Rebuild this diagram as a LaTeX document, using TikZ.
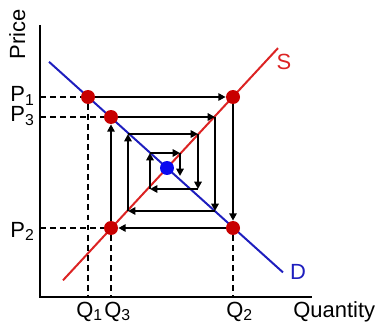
\documentclass[tikz,border=0pt]{standalone}
\usepackage{fontspec}
\setmainfont{Liberation Sans}
\usetikzlibrary{arrows.meta}
\definecolor{supred}{RGB}{220,35,35}
\definecolor{dotred}{RGB}{200,0,0}
\definecolor{demblue}{RGB}{30,30,190}
\definecolor{eqblue}{RGB}{10,10,240}
\newcommand{\lowidx}[1]{\raisebox{-0.3ex}{\fontsize{9}{10}\selectfont #1}}
\tikzset{
	dot/.style={circle,inner sep=0pt,minimum size=0.28cm},
	web/.style={line width=0.5mm,-{Triangle[length=4.2pt,width=4.2pt]}},
	guide/.style={line width=0.4mm,dash pattern=on 3.4pt off 2.3pt},
	lbl/.style={font=\fontsize{12.5}{14}\selectfont,inner sep=0pt}
}

\begin{document}
\begin{tikzpicture}[x=0.02cm,y=-0.02cm]
	\useasboundingbox (0,0) rectangle (378,324);
	% axes
	\coordinate (O) at (40,297);
	\coordinate (Y) at (40,25);
	\coordinate (X) at (312,297);
	\draw [line width=0.45mm] (Y) -- (O) -- (X);
	% supply and demand
	\coordinate (S1) at (63,280.3);
	\coordinate (S2) at (278,48.1);
	\coordinate (D1) at (49,61.8);
	\coordinate (D2) at (283,272.4);
	\draw [line width=0.4mm,supred] (S1) -- (S2);
	\draw [line width=0.4mm,demblue] (D1) -- (D2);
	% market points
	\begin{scope}[every node/.style={dot,fill=dotred}]
	\node (A) at (88,97) {};
	\node (B) at (233,97) {};
	\node (C) at (233,228) {};
	\node (F) at (111,228) {};
	\node (G) at (111,117) {};
	\end{scope}
	\node [dot,fill=eqblue] (E) at (167,168) {};
	% inner corners of the web
	\coordinate (H) at (215,117);
	\coordinate (I) at (215,211);
	\coordinate (J) at (128,211);
	\coordinate (K) at (128,134);
	\coordinate (L) at (198,134);
	\coordinate (M) at (198,189);
	\coordinate (N) at (150,189);
	\coordinate (P) at (150,153);
	\coordinate (R) at (180,153);
	\coordinate (T) at (180,176);
	\draw [web] (A) -- (B);
	\draw [web] (B) -- (C);
	\draw [web] (C) -- (F);
	\draw [web] (F) -- (G);
	\draw [web] (G) -- (H);
	\draw [web] (H) -- (I);
	\draw [web] (I) -- (J);
	\draw [web] (J) -- (K);
	\draw [web] (K) -- (L);
	\draw [web] (L) -- (M);
	\draw [web] (M) -- (N);
	\draw [web] (N) -- (P);
	\draw [web] (P) -- (R);
	\draw [web] (R) -- (T);
	% guides to the axes
	\coordinate (yP1) at (40,97);
	\coordinate (yP3) at (40,117);
	\coordinate (yP2) at (40,228);
	\coordinate (xQ1) at (88,297);
	\coordinate (xQ3) at (111,297);
	\coordinate (xQ2) at (233,297);
	\draw [guide] (yP1) -- (A) -- (xQ1);
	\draw [guide] (yP3) -- (G);
	\draw [guide] (yP2) -- (F) -- (xQ3);
	\draw [guide] (C) -- (xQ2);
	% labels
	\begin{scope}[every node/.style={lbl,anchor=base west}]
	\node (lP1) at (10,102) {P\lowidx{1}};
	\node (lP3) at (10,122) {P\lowidx{3}};
	\node (lP2) at (10,237) {P\lowidx{2}};
	\node (lQ1) at (76,317) {Q\lowidx{1}};
	\node (lQ3) at (104,317) {Q\lowidx{3}};
	\node (lQ2) at (226,317) {Q\lowidx{2}};
	\node (lQ) at (293,317) {Quantity};
	\end{scope}
	\node [lbl,rotate=90,anchor=base] (lPr) at (25,34) {Price};
	\node [lbl,text=supred] (lS) at (284,62) {S};
	\node [lbl,text=demblue] (lD) at (298,272) {D};
\end{tikzpicture}
\end{document}
